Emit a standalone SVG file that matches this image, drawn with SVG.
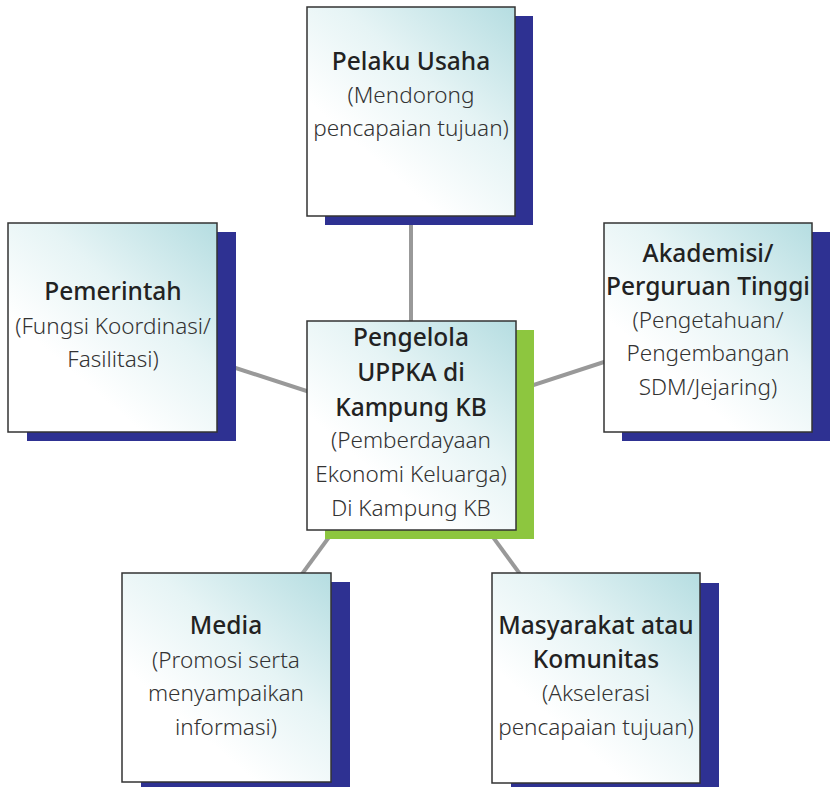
<svg xmlns="http://www.w3.org/2000/svg" width="830" height="787" viewBox="0 0 830 787">
<defs>
<linearGradient id="g" x1="1" y1="0" x2="0.35" y2="0.75">
<stop offset="0" stop-color="#b5dde1"/>
<stop offset="0.55" stop-color="#e6f4f5"/>
<stop offset="1" stop-color="#ffffff"/>
</linearGradient>
<style>
.box{fill:url(#g);stroke:#333;stroke-width:1.5}
.sh{fill:#2e3192}
.shg{fill:#8dc63f}
.conn line{stroke:#999;stroke-width:4}
.t{font-family:"Noto Sans","DejaVu Sans",sans-serif;font-size:24.5px;font-weight:500;fill:#222;text-anchor:middle}
.s{font-family:"Noto Sans","DejaVu Sans",sans-serif;font-size:22.5px;font-weight:300;fill:#333;text-anchor:middle}
</style>
</defs>
<rect width="830" height="787" fill="#fff"/>
<g id="connectors" class="conn">
<line x1="411" y1="112" x2="411" y2="425"/>
<line x1="113" y1="328" x2="411" y2="425"/>
<line x1="708" y1="328" x2="411" y2="425"/>
<line x1="226" y1="678" x2="411" y2="425"/>
<line x1="596" y1="678" x2="411" y2="425"/>
</g>
<g id="node-pelaku">
<rect class="sh" x="325" y="16" width="208" height="209"/>
<rect class="box" x="307" y="7" width="208" height="209"/>
<text class="t" x="411" y="70">Pelaku Usaha</text>
<text class="s" x="411" y="103">(Mendorong</text>
<text class="s" x="411" y="136">pencapaian tujuan)</text>
</g>
<g id="node-pemerintah">
<rect class="sh" x="27" y="232" width="209" height="209"/>
<rect class="box" x="8" y="223" width="209" height="209"/>
<text class="t" x="113" y="300">Pemerintah</text>
<text class="s" x="113" y="334">(Fungsi Koordinasi/</text>
<text class="s" x="113" y="367">Fasilitasi)</text>
</g>
<g id="node-akademisi">
<rect class="sh" x="622" y="232" width="208" height="209"/>
<rect class="box" x="604" y="223" width="208" height="209"/>
<text class="t" x="708" y="262">Akademisi/</text>
<text class="t" x="708" y="295">Perguruan Tinggi</text>
<text class="s" x="708" y="328">(Pengetahuan/</text>
<text class="s" x="708" y="361">Pengembangan</text>
<text class="s" x="708" y="395">SDM/Jejaring)</text>
</g>
<g id="node-pengelola">
<rect class="shg" x="325" y="330" width="209" height="209"/>
<rect class="box" x="307" y="321" width="209" height="209"/>
<text class="t" x="411" y="346">Pengelola</text>
<text class="t" x="411" y="381">UPPKA di</text>
<text class="t" x="411" y="416">Kampung KB</text>
<text class="s" x="411" y="448">(Pemberdayaan</text>
<text class="s" x="411" y="482">Ekonomi Keluarga)</text>
<text class="s" x="411" y="516">Di Kampung KB</text>
</g>
<g id="node-media">
<rect class="sh" x="141" y="582" width="209" height="209"/>
<rect class="box" x="122" y="573" width="209" height="209"/>
<text class="t" x="226" y="634">Media</text>
<text class="s" x="226" y="668">(Promosi serta</text>
<text class="s" x="226" y="701">menyampaikan</text>
<text class="s" x="226" y="735">informasi)</text>
</g>
<g id="node-masyarakat">
<rect class="sh" x="511" y="583" width="208" height="209"/>
<rect class="box" x="492" y="573" width="208" height="210"/>
<text class="t" x="596" y="634">Masyarakat atau</text>
<text class="t" x="596" y="668">Komunitas</text>
<text class="s" x="596" y="701">(Akselerasi</text>
<text class="s" x="596" y="735">pencapaian tujuan)</text>
</g>
</svg>
